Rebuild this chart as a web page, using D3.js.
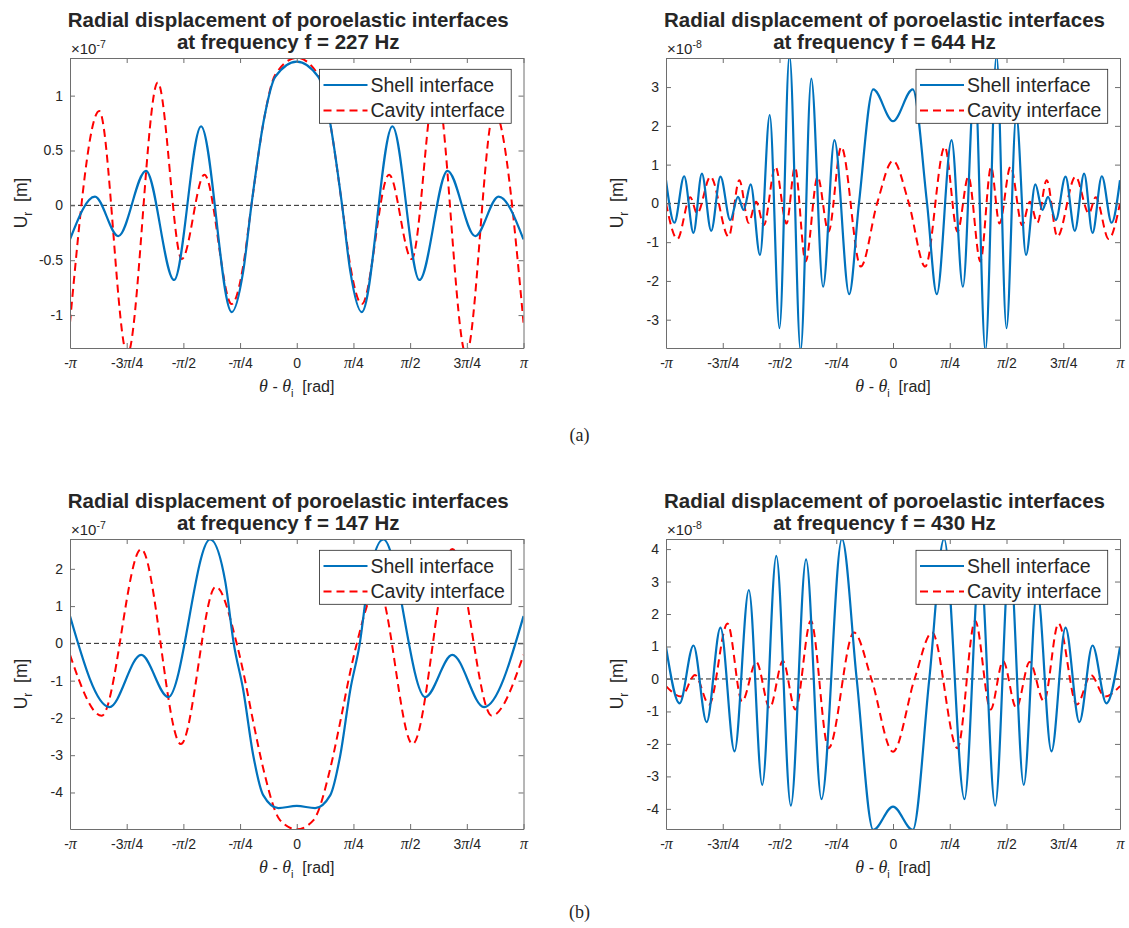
<!DOCTYPE html>
<html>
<head>
<meta charset="utf-8">
<script src="https://cdn.jsdelivr.net/npm/d3@7"></script>
<style>
body{margin:0;background:#fff}
svg text{font-family:"Liberation Sans",Arial,sans-serif;fill:#262626}
</style>
</head>
<body>
<svg id="fig" width="1129" height="928"></svg>
<script>
// x positions are theta - theta_i in units of pi
const thetaTicks = [-1,-0.75,-0.5,-0.25,0,0.25,0.5,0.75,1]
const thetaLabels = ["-π","-3π/4","-π/2","-π/4","0","π/4","π/2","3π/4","π"]
const freqs = [227, 644, 147, 430]
const exponents = [-7, -8, -7, -8]
const yLims = [[-1.30,1.343],[-3.73,3.75],[-4.98,2.80],[-4.62,4.31]]
const yTicks = [[-1,-0.5,0,0.5,1],[-3,-2,-1,0,1,2,3],[-4,-3,-2,-1,0,1,2],[-4,-3,-2,-1,0,1,2,3,4]]
const seriesNames = ["Shell interface","Cavity interface"]
const captions = ["(a)","(b)"]

// f = 227 Hz (x1e-7 m)
const shell227 = [[-1,-0.31],[-0.890,0.08],[-0.787,-0.28],[-0.665,0.315],[-0.541,-0.68],[-0.422,0.72],[-0.287,-0.973],[-0.236,-0.6],[-0.2,0],[-0.143,0.8],[-0.095,1.17],[0,1.31],[0.095,1.17],[0.143,0.8],[0.2,0],[0.236,-0.6],[0.287,-0.973],[0.422,0.72],[0.541,-0.68],[0.665,0.315],[0.787,-0.28],[0.890,0.08],[1,-0.31]]
const cavity227 = [[-1,-1.07],[-0.871,0.86],[-0.747,-1.36],[-0.613,1.12],[-0.507,-0.49],[-0.407,0.28],[-0.287,-0.90],[-0.236,-0.55],[-0.2,0],[-0.143,0.8],[-0.095,1.19],[0,1.345],[0.095,1.19],[0.143,0.8],[0.2,0],[0.236,-0.55],[0.287,-0.90],[0.407,0.28],[0.507,-0.49],[0.613,1.12],[0.747,-1.36],[0.871,0.86],[1,-1.07]]

// f = 644 Hz (x1e-8 m)
const shell644 = [[-1,0.6],[-0.963,-0.5],[-0.920,0.70],[-0.879,-0.76],[-0.842,0.77],[-0.801,-0.71],[-0.760,0.69],[-0.717,-0.43],[-0.683,0.17],[-0.658,-0.17],[-0.627,0.49],[-0.586,-1.33],[-0.543,2.28],[-0.500,-3.22],[-0.456,3.82],[-0.407,-3.8],[-0.360,3.22],[-0.308,-2.15],[-0.258,1.63],[-0.193,-2.34],[-0.15,0],[-0.087,2.94],[0,2.12],[0.087,2.94],[0.15,0],[0.193,-2.34],[0.258,1.63],[0.308,-2.15],[0.360,3.22],[0.407,-3.8],[0.456,3.82],[0.500,-3.22],[0.543,2.28],[0.586,-1.33],[0.627,0.49],[0.658,-0.17],[0.683,0.17],[0.717,-0.43],[0.760,0.69],[0.801,-0.71],[0.842,0.77],[0.879,-0.76],[0.920,0.70],[0.963,-0.5],[1,0.6]]
const cavity644 = [[-1,0],[-0.950,-0.92],[-0.893,0.16],[-0.863,-0.26],[-0.804,0.69],[-0.724,-0.86],[-0.677,0.60],[-0.636,-0.5],[-0.603,0.04],[-0.569,-0.56],[-0.518,0.95],[-0.469,-0.52],[-0.432,0.94],[-0.385,-1.5],[-0.332,0.69],[-0.284,-0.73],[-0.228,1.46],[-0.142,-1.63],[-0.07,0],[0,1.10],[0.07,0],[0.142,-1.63],[0.228,1.46],[0.284,-0.73],[0.332,0.69],[0.385,-1.5],[0.432,0.94],[0.469,-0.52],[0.518,0.95],[0.569,-0.56],[0.603,0.04],[0.636,-0.5],[0.677,0.60],[0.724,-0.86],[0.804,0.69],[0.863,-0.26],[0.893,0.16],[0.950,-0.92],[1,0]]

// f = 147 Hz (x1e-7 m)
const shell147 = [[-1,0.73],[-0.826,-1.71],[-0.686,-0.31],[-0.567,-1.44],[-0.382,2.79],[-0.315,1.65],[-0.278,0],[-0.236,-1.25],[-0.192,-3.0],[-0.148,-4.07],[-0.081,-4.42],[0,-4.36],[0.081,-4.42],[0.148,-4.07],[0.192,-3.0],[0.236,-1.25],[0.278,0],[0.315,1.65],[0.382,2.79],[0.567,-1.44],[0.686,-0.31],[0.826,-1.71],[1,0.73]]
const cavity147 = [[-1,-0.31],[-0.86,-1.94],[-0.686,2.53],[-0.511,-2.70],[-0.357,1.52],[-0.265,0],[-0.236,-0.76],[-0.192,-2.1],[-0.148,-3.35],[-0.074,-4.74],[0,-4.99],[0.074,-4.74],[0.148,-3.35],[0.192,-2.1],[0.236,-0.76],[0.265,0],[0.357,1.52],[0.511,-2.70],[0.686,2.53],[0.86,-1.94],[1,-0.31]]

// f = 430 Hz (x1e-8 m)
const shell430 = [[-1,0.99],[-0.940,-0.75],[-0.879,1.03],[-0.821,-1.33],[-0.760,1.58],[-0.698,-2.23],[-0.635,2.74],[-0.576,-3.26],[-0.514,3.79],[-0.450,-3.90],[-0.383,3.68],[-0.315,-3.70],[-0.225,4.31],[-0.160,0],[-0.087,-4.65],[0,-3.93],[0.087,-4.65],[0.160,0],[0.225,4.31],[0.315,-3.70],[0.383,3.68],[0.450,-3.90],[0.514,3.79],[0.576,-3.26],[0.635,2.74],[0.698,-2.23],[0.760,1.58],[0.821,-1.33],[0.879,1.03],[0.940,-0.75],[1,0.99]]
const cavity430 = [[-1,-0.22],[-0.933,-0.54],[-0.872,0.12],[-0.81,-0.79],[-0.729,1.71],[-0.665,-0.69],[-0.602,0.52],[-0.543,-0.89],[-0.485,0.55],[-0.430,-0.94],[-0.362,1.79],[-0.284,-2.13],[-0.172,1.43],[-0.095,0],[0,-2.24],[0.095,0],[0.172,1.43],[0.284,-2.13],[0.362,1.79],[0.430,-0.94],[0.485,0.55],[0.543,-0.89],[0.602,0.52],[0.665,-0.69],[0.729,1.71],[0.81,-0.79],[0.872,0.12],[0.933,-0.54],[1,-0.22]]

const shellData = [shell227, shell644, shell147, shell430]
const cavityData = [cavity227, cavity644, cavity147, cavity430]

const svg = d3.select("#fig")
const defs = svg.append("defs")

// plot boxes
const boxes = [
  {x0:70, x1:523.5, y0:58, y1:348},
  {x0:666, x1:1120, y0:58, y1:348},
  {x0:70, x1:523.5, y0:539, y1:829},
  {x0:666, x1:1120, y0:539, y1:829}
]

function piText(sel, s){
  sel.text(null)
  let parts = s.split("π")
  parts.forEach(function(p,i){
    if (p.length>0) sel.append("tspan").text(p)
    if (i<parts.length-1) sel.append("tspan")
      .style("font-family","'Liberation Serif',serif").style("font-style","italic")
      .style("font-size","16px").text("π")
  })
}

function drawPanel(i){
  let b = boxes[i]
  let xScale = d3.scaleLinear().domain([-1,1]).range([b.x0,b.x1])
  let yScale = d3.scaleLinear().domain(yLims[i]).range([b.y1,b.y0])
  let g = svg.append("g")
  let cx = (b.x0+b.x1)/2, cy = (b.y0+b.y1)/2

  defs.append("clipPath").attr("id","clip"+i)
    .append("rect").attr("x",b.x0).attr("y",b.y0).attr("width",b.x1-b.x0).attr("height",b.y1-b.y0)

  // zero line
  g.append("line")
    .attr("x1",b.x0).attr("x2",b.x1).attr("y1",yScale(0)).attr("y2",yScale(0))
    .attr("stroke","#222").attr("stroke-width",1).attr("stroke-dasharray","5,3")

  let line = d3.line().x(d=>xScale(d[0])).y(d=>yScale(d[1])).curve(d3.curveMonotoneX)
  let plot = g.append("g").attr("clip-path",`url(#clip${i})`)
  plot.append("path").datum(cavityData[i]).attr("d",line)
    .attr("fill","none").attr("stroke","#ff0000").attr("stroke-width",2).attr("stroke-dasharray","8,5")
  plot.append("path").datum(shellData[i]).attr("d",line)
    .attr("fill","none").attr("stroke","#0072bd").attr("stroke-width",2.2)

  // axes, ticks pointing inward on all four sides
  let xb = g.append("g").attr("transform",`translate(0,${b.y1})`)
    .call(d3.axisBottom(xScale).tickValues(thetaTicks).tickSize(-5).tickSizeOuter(0).tickPadding(10))
  xb.selectAll(".tick text").each(function(d,k){ piText(d3.select(this), thetaLabels[k]) })
  g.append("g").attr("transform",`translate(0,${b.y0})`)
    .call(d3.axisTop(xScale).tickValues(thetaTicks).tickSize(-5).tickSizeOuter(0).tickFormat(""))
  g.append("g").attr("transform",`translate(${b.x0},0)`)
    .call(d3.axisLeft(yScale).tickValues(yTicks[i]).tickSize(-5).tickSizeOuter(0).tickPadding(7).tickFormat(d=>String(d)))
  g.append("g").attr("transform",`translate(${b.x1},0)`)
    .call(d3.axisRight(yScale).tickValues(yTicks[i]).tickSize(-5).tickSizeOuter(0).tickFormat(""))
  g.selectAll(".domain").attr("stroke","#6e6e6e").attr("stroke-width",1)
  g.selectAll(".tick line").attr("stroke","#6e6e6e")
  g.selectAll(".tick text").attr("font-size",14).attr("fill","#262626")
    .attr("font-family","'Liberation Sans',Arial,sans-serif")

  // exponent
  let ex = g.append("text").attr("x",b.x0+1).attr("y",b.y0-4).attr("font-size",15)
  ex.append("tspan").text("×10")
  ex.append("tspan").attr("font-size",10.5).attr("dy",-6).text(exponents[i])

  // titles (sit a little left of the plot centre, as in the figure)
  let tx = cx - 8.5
  g.append("text").attr("x",tx).attr("y",b.y0-31).attr("text-anchor","middle")
    .attr("font-size",20.5).attr("font-weight","bold").attr("fill","#000")
    .text("Radial displacement of poroelastic interfaces")
  g.append("text").attr("x",tx).attr("y",b.y0-9).attr("text-anchor","middle")
    .attr("font-size",20.5).attr("font-weight","bold").attr("fill","#000")
    .text(`at frequency f = ${freqs[i]} Hz`)

  // y label
  let yl = g.append("text").attr("transform",`translate(${b.x0-43},${cy}) rotate(-90)`)
    .attr("text-anchor","middle").attr("font-size",17.5).style("white-space","pre")
  yl.append("tspan").text("U")
  yl.append("tspan").attr("font-size",12).attr("dy",5).text("r")
  yl.append("tspan").attr("dy",-5).text("  [m]")

  // x label
  let xl = g.append("text").attr("x",cx).attr("y",b.y1+44).attr("text-anchor","middle").attr("font-size",16)
    .style("white-space","pre")
  xl.append("tspan").style("font-family","'Liberation Serif',serif").style("font-style","italic").attr("font-size",18).text("θ")
  xl.append("tspan").text(" - ")
  xl.append("tspan").style("font-family","'Liberation Serif',serif").style("font-style","italic").attr("font-size",18).text("θ")
  xl.append("tspan").attr("font-size",11).attr("dy",5).text("i")
  xl.append("tspan").attr("dy",-5).text("  [rad]")

  // legend
  let lx = b.x1-204, ly = b.y0+11.3
  let lg = g.append("g").attr("transform",`translate(${lx},${ly})`)
  lg.append("rect").attr("width",191.7).attr("height",54)
    .attr("fill","#fff").attr("stroke","#262626").attr("stroke-width",0.8)
  seriesNames.forEach(function(name,k){
    let yy = 15.7 + k*25.5
    lg.append("line").attr("x1",4).attr("x2",48).attr("y1",yy).attr("y2",yy)
      .attr("stroke",k==0 ? "#0072bd" : "#ff0000").attr("stroke-width",2)
      .attr("stroke-dasharray",k==0 ? null : "8,5")
    lg.append("text").attr("x",51).attr("y",yy+7).attr("font-size",19.5).attr("fill","#000").text(name)
  })
}

for (let i=0;i<4;i++) drawPanel(i)

// sub figure captions
captions.forEach(function(c,k){
  svg.append("text").attr("x",579.5).attr("y",k==0 ? 441 : 918).attr("text-anchor","middle")
    .style("font-family","'Liberation Serif',serif").attr("font-size",18).attr("fill","#000").text(c)
})
</script>
</body>
</html>
